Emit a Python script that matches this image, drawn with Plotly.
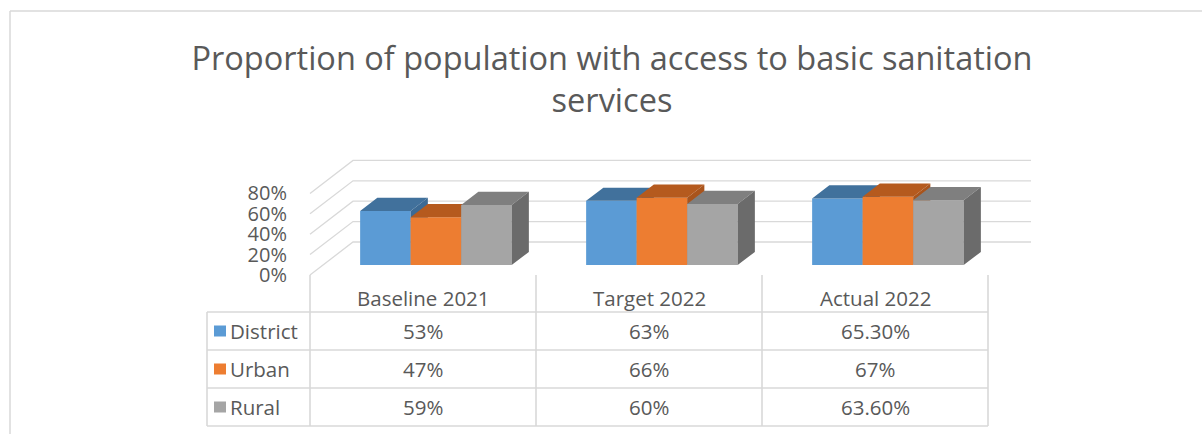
import plotly.graph_objects as go

# ---------------- data ----------------
categories = ["Baseline 2021", "Target 2022", "Actual 2022"]
series_names = ["District", "Urban", "Rural"]
district = [53, 63, 65.3]
urban = [47, 66, 67]
rural = [59, 60, 63.6]
y_tick_values = [0, 20, 40, 60, 80]
y_tick_labels = ["0%", "20%", "40%", "60%", "80%"]
title_text = "Proportion of population with access to basic sanitation<br>services"

series_values = [district, urban, rural]
front_colors = ["#5B9BD5", "#ED7D31", "#A5A5A5"]
top_colors = ["#41719C", "#B55A1E", "#7F7F7F"]
side_colors = ["#3C6A94", "#A9541C", "#6B6B6B"]

# ---------------- geometry (style) ----------------
W, H = 1202, 434
X0_PX = 310.0      # front-left floor corner (px from left)
CAT_PX = 226.0     # pixel width of one category
Y0_PX = 275.0      # front floor (px from top)
PCT_PX = 1.02      # pixels per percentage point
DEPTH_DX_PX, DEPTH_DY_PX = 43.0, 33.0   # full-depth oblique offset
BAR_DEPTH_START, BAR_DEPTH = 0.3, 0.4
BAR_W = 0.2235
FONT = "Open Sans"
TXT = "#595959"
GRID = "#D9D9D9"

DX = DEPTH_DX_PX / CAT_PX
DY = DEPTH_DY_PX / PCT_PX


def ranges(depth):
    sx = depth * DEPTH_DX_PX
    sy = depth * DEPTH_DY_PX
    xr = [-(X0_PX + sx) / CAT_PX, (W - X0_PX - sx) / CAT_PX]
    yr = [(Y0_PX - sy - H) / PCT_PX, (Y0_PX - sy) / PCT_PX]
    return xr, yr


def fmt_pct(v):
    return f"{v:.0f}%" if float(v).is_integer() else f"{v:.2f}%"


fig = go.Figure()

# ---- walls and grid (axis 1, front plane) ----
gx, gy = [], []
for v in y_tick_values:
    # left wall diagonal + back wall line
    gx += [0, DX, len(categories) + DX, None]
    gy += [v, v + DY, v + DY, None]
fig.add_trace(go.Scatter(x=gx, y=gy, mode="lines", line=dict(color=GRID, width=1.3),
                         hoverinfo="skip", showlegend=False, xaxis="x", yaxis="y"))

# ---- bars: one overlaid subplot per series for painter's order ----
centers = [i + 0.5 for i in range(len(categories))]
ddx = BAR_DEPTH * DX
ddy = BAR_DEPTH * DY
for s, (name, vals) in enumerate(zip(series_names, series_values)):
    ax = s + 2
    xa, ya = f"x{ax}", f"y{ax}"
    offset = -1.5 * BAR_W + s * BAR_W
    fig.add_trace(go.Bar(x=centers, y=vals, width=BAR_W, offset=offset, name=name,
                         marker=dict(color=front_colors[s], line=dict(width=0)),
                         hoverinfo="skip", showlegend=False, xaxis=xa, yaxis=ya))
    tx, ty, sx_, sy_ = [], [], [], []
    for c, v in zip(centers, vals):
        l = c + offset
        r = l + BAR_W
        tx += [l, r, r + ddx, l + ddx, l, None]
        ty += [v, v, v + ddy, v + ddy, v, None]
        sx_ += [r, r + ddx, r + ddx, r, r, None]
        sy_ += [0, ddy, v + ddy, v, 0, None]
    fig.add_trace(go.Scatter(x=tx, y=ty, mode="lines", fill="toself", fillcolor=top_colors[s],
                             line=dict(width=0, color=top_colors[s]), hoverinfo="skip",
                             showlegend=False, xaxis=xa, yaxis=ya))
    fig.add_trace(go.Scatter(x=sx_, y=sy_, mode="lines", fill="toself", fillcolor=side_colors[s],
                             line=dict(width=0, color=side_colors[s]), hoverinfo="skip",
                             showlegend=False, xaxis=xa, yaxis=ya))

xr1, yr1 = ranges(0)
xrb, yrb = ranges(BAR_DEPTH_START)
layout_axes = dict(
    xaxis=dict(domain=[0, 1], range=xr1, visible=False, fixedrange=True),
    yaxis=dict(domain=[0, 1], range=yr1, anchor="free", position=X0_PX / W,
               tickvals=y_tick_values, ticktext=y_tick_labels, ticks="outside", ticklen=19,
               tickcolor="rgba(0,0,0,0)", showgrid=False, zeroline=False, showline=False,
               tickfont=dict(family=FONT, size=20, color=TXT), fixedrange=True),
)
for s in range(len(series_names)):
    ax = s + 2
    layout_axes[f"xaxis{ax}"] = dict(domain=[0, 1], range=xrb, overlaying="x", visible=False,
                                     fixedrange=True)
    layout_axes[f"yaxis{ax}"] = dict(domain=[0, 1], range=yrb, overlaying="y", visible=False,
                                     fixedrange=True)

# ---------------- data table ----------------
def py(px):
    return 1 - px / H

def pxx(px):
    return px / W

HEADER_TOP = Y0_PX
ROW_TOP = 312.0
ROW_H = 38.0
LABEL_LEFT = 207.0
n_rows = len(series_names)
bottom = ROW_TOP + n_rows * ROW_H

shapes = []
line_style = dict(color=GRID, width=1.6)
# horizontal lines
for k in range(n_rows + 1):
    yy = ROW_TOP + k * ROW_H
    shapes.append(dict(type="line", xref="paper", yref="paper", x0=pxx(LABEL_LEFT),
                       x1=pxx(X0_PX + len(categories) * CAT_PX), y0=py(yy), y1=py(yy),
                       line=line_style))
# vertical lines
shapes.append(dict(type="line", xref="paper", yref="paper", x0=pxx(LABEL_LEFT), x1=pxx(LABEL_LEFT),
                   y0=py(ROW_TOP), y1=py(bottom), line=line_style))
for k in range(len(categories) + 1):
    shapes.append(dict(type="line", xref="x", yref="paper", x0=k, x1=k,
                       y0=py(HEADER_TOP), y1=py(bottom), line=line_style))
# swatches
for s in range(n_rows):
    cy = ROW_TOP + (s + 0.5) * ROW_H
    shapes.append(dict(type="rect", xref="paper", yref="paper", x0=pxx(214), x1=pxx(226),
                       y0=py(cy + 5.5), y1=py(cy - 5.5), fillcolor=front_colors[s],
                       line=dict(width=0)))
# outer chart border
shapes.append(dict(type="line", xref="paper", yref="paper", x0=pxx(10), x1=1, y0=py(11), y1=py(11),
                   line=dict(color=GRID, width=1.5)))
shapes.append(dict(type="line", xref="paper", yref="paper", x0=pxx(10), x1=pxx(10), y0=py(11), y1=0,
                   line=dict(color=GRID, width=1.5)))

annotations = []
tfont = dict(family=FONT, size=20.5, color=TXT)
for i, cat in enumerate(categories):
    annotations.append(dict(x=i + 0.5, xref="x", y=py((HEADER_TOP + ROW_TOP) / 2 + 4), yref="paper",
                            text=cat, showarrow=False, font=tfont, xanchor="center", yanchor="middle"))
for s, (name, vals) in enumerate(zip(series_names, series_values)):
    cy = ROW_TOP + (s + 0.5) * ROW_H
    annotations.append(dict(x=pxx(228), xref="paper", y=py(cy), yref="paper", text=name,
                            showarrow=False, font=tfont, xanchor="left", yanchor="middle"))
    for i, v in enumerate(vals):
        annotations.append(dict(x=i + 0.5, xref="x", y=py(cy), yref="paper", text=fmt_pct(v),
                                showarrow=False, font=tfont, xanchor="center", yanchor="middle"))

fig.update_layout(
    width=W, height=H, autosize=False,
    margin=dict(l=0, r=0, t=0, b=0),
    paper_bgcolor="white", plot_bgcolor="rgba(0,0,0,0)",
    barmode="overlay",
    title=dict(text=title_text, x=612 / W, xanchor="center", y=py(70), yanchor="middle",
               font=dict(family=FONT, size=32.5, color=TXT)),
    shapes=shapes, annotations=annotations,
    showlegend=False,
    **layout_axes,
)

fig.write_html("out.html")
